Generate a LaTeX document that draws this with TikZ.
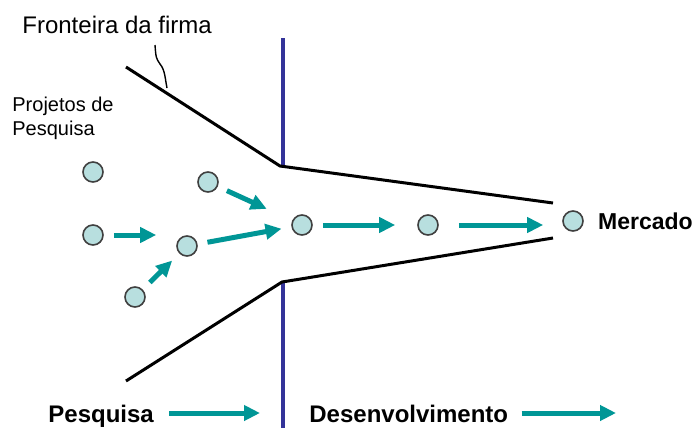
\documentclass[tikz,border=0pt]{standalone}
\usepackage{fontspec}
\setmainfont{Liberation Sans}
\usetikzlibrary{arrows.meta,positioning}
\definecolor{verdeagua}{RGB}{0,150,150}
\definecolor{azulfronteira}{RGB}{51,51,153}
\definecolor{bolinha}{RGB}{184,223,223}
\definecolor{contorno}{RGB}{64,64,64}

\begin{document}
\begin{tikzpicture}[x=0.5pt, y=-0.5pt,
	projeto/.style={circle,draw=contorno,fill=bolinha,line width=0.8pt,minimum size=10pt,inner sep=0pt},
	seta/.style={verdeagua,line width=2.5pt,-{Triangle[length=8pt,width=7.5pt]},shorten <=5pt,shorten >=5pt},
	rotulo/.style={font=\fontsize{12}{14}\selectfont,inner sep=0pt},
	etapa/.style={font=\fontsize{12}{14}\selectfont\bfseries,inner sep=0pt}]
	\useasboundingbox (0,0) rectangle (700,428);

	% fronteira (azul) e funil
	\draw[azulfronteira, line width=2pt] (283,38) -- (283,167);
	\draw[azulfronteira, line width=2pt] (283,282) -- (283,428);
	\draw[line width=1.5pt] (126,67) -- (280,166) -- (553,203);
	\draw[line width=1.5pt] (126,381) -- (282,282) -- (553,238);
	\draw[line width=0.7pt] (155,45) .. controls (156,58) .. (160,64) .. controls (165,70) and (165,78) .. (167,88);

	% textos
	\node[rotulo, anchor=base west] (fronteira) at (22,33) {Fronteira da firma};
	\node[font=\fontsize{10}{12}\selectfont, inner sep=0pt, align=left, anchor=north west] (projetos) at (12,97) {Projetos de\\Pesquisa};
	\node[etapa, anchor=base west] (pesquisa) at (48,422) {Pesquisa};
	\node[etapa, anchor=base west] (desenv) at (309,422) {Desenvolvimento};

	% projetos
	\node[projeto] (p1) at (93,172) {};
	\node[projeto] (p2) at (208,182) {};
	\node[projeto] (p3) at (93,235) {};
	\node[projeto] (p4) at (187,246) {};
	\node[projeto] (p5) at (135,297) {};
	\node[projeto] (d1) at (302,225) {};
	\node[projeto] (d2) at (428,225) {};
	\node[projeto] (m) at (573,221) {};
	\node[etapa, font=\fontsize{11.5}{13}\selectfont\bfseries, right=7pt of m] (mercado) {Mercado};

	\draw[seta, shorten >=10pt] (p3) -- (p3 -| p4.west);
	\draw[seta] (p5) -- (p4);
	\draw[seta] (p4) -- (d1);
	\draw[seta, shorten >=14pt] (p2) -- (d1);
	\draw[seta, shorten >=11pt] (d1) -- (d2);
	\draw[seta, shorten <=10pt, shorten >=9.5pt] (d2) -- (d2 -| m.west);

	\coordinate (fimP) at (260,413);
	\coordinate (fimD) at (616,413);
	\draw[seta, shorten <=7.5pt, shorten >=0pt] (fimP -| pesquisa.east) -- (fimP);
	\draw[seta, shorten <=6.5pt, shorten >=0pt] (fimD -| desenv.east) -- (fimD);
\end{tikzpicture}
\end{document}
